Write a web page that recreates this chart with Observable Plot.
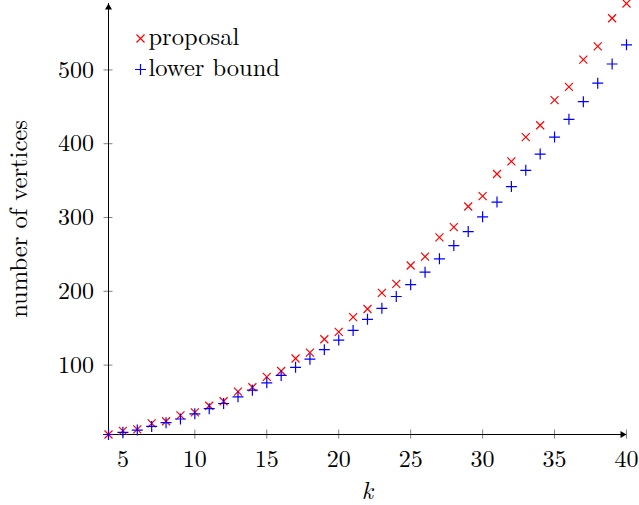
<!DOCTYPE html>
<html>
<head>
<meta charset="utf-8">
<script src="https://cdn.jsdelivr.net/npm/d3@7"></script>
<script src="https://cdn.jsdelivr.net/npm/@observablehq/plot@0.6"></script>
<style>
  html, body { margin: 0; padding: 0; background: #fff; }
  #chart svg { display: block; }
</style>
</head>
<body>
<div id="chart"></div>
<script>
// ---- data ----
const k = [4,5,6,7,8,9,10,11,12,13,14,15,16,17,18,19,20,21,22,23,24,25,26,27,28,29,30,31,32,33,34,35,36,37,38,39,40];
const proposal = [6,11,13,21,24,32,36,45,51,64,70,84,92,109,117,135,145,165,176,198,210,235,247,273,287,315,329,359,376,409,425,459,477,514,532,570,590];
const lowerBound = [6,9,12,17,22,27,34,41,48,57,66,76,86,97,108,121,134,147,162,177,193,209,226,244,262,281,301,321,342,364,386,409,433,457,482,508,534];
const seriesNames = ["proposal", "lower bound"];
const xTicks = [5,10,15,20,25,30,35,40];
const yTicks = [100,200,300,400,500];
const xLabel = "k";
const yLabel = "number of vertices";

// ---- build tables ----
const propData = k.map((kk, i) => ({k: kk, v: proposal[i]}));
const lowData = k.map((kk, i) => ({k: kk, v: lowerBound[i]}));
const allVals = proposal.concat(lowerBound);
const yMin = d3.min(allVals), yMax = d3.max(allVals);
const xMin = d3.min(k), xMax = d3.max(k);

const serif = "Latin Modern Roman";
const tickGray = "#808080";
const timesR = 3.72, plusR = 3.63, markW = 1.2;

const chart = Plot.plot({
  width: 639,
  height: 505,
  marginTop: 3,
  marginRight: 13,
  marginBottom: 71,
  marginLeft: 108,
  style: "font-family: 'Latin Modern Roman'; font-size: 24px; color: black; background: white; overflow: visible;",
  x: {domain: [xMin, xMax]},
  y: {domain: [yMin, yMax]},
  marks: [
    // tick labels
    Plot.axisX(xTicks, {tickSize: 0, tickPadding: 15, fontSize: 24, fontFamily: serif, label: null}),
    Plot.axisY(yTicks, {tickSize: 0, tickPadding: 14.5, fontSize: 24, fontFamily: serif, label: null}),
    // ticks crossing the axis lines
    Plot.ruleX(xTicks, {x: d => d, y1: yMin, y2: yMin, insetTop: 4.5, insetBottom: 4.5, stroke: tickGray, strokeWidth: 1}),
    Plot.ruleY(yTicks, {y: d => d, x1: xMin, x2: xMin, insetLeft: 4.5, insetRight: 4.5, stroke: tickGray, strokeWidth: 1}),
    // axis lines with arrow heads
    Plot.ruleY([yMin], {x1: xMin, x2: xMax, stroke: "black", strokeWidth: 1}),
    Plot.ruleX([xMin], {y1: yMin, y2: yMax, stroke: "black", strokeWidth: 1}),
    Plot.dot([xMax], {x: d => d, y: yMin, symbol: "triangle", rotate: 90, r: 2.6, fill: "black", stroke: "none", dx: -4}),
    Plot.dot([yMax], {x: xMin, y: d => d, symbol: "triangle", r: 2.6, fill: "black", stroke: "none", dy: 4}),
    // data
    Plot.dot(propData, {x: "k", y: "v", symbol: "times", r: timesR, stroke: "#ff0000", strokeWidth: markW}),
    Plot.dot(lowData, {x: "k", y: "v", symbol: "plus", r: plusR, stroke: "#0000ff", strokeWidth: markW}),
    // legend
    Plot.dot([seriesNames[0]], {frameAnchor: "top-left", dx: 32, dy: 35, symbol: "times", r: timesR, stroke: "#ff0000", strokeWidth: markW}),
    Plot.dot([seriesNames[1]], {frameAnchor: "top-left", dx: 32, dy: 66, symbol: "plus", r: plusR, stroke: "#0000ff", strokeWidth: markW}),
    Plot.text([seriesNames[0]], {frameAnchor: "top-left", dx: 40, dy: 34, text: d => d, textAnchor: "start", lineAnchor: "middle", fontSize: 24.5, fontFamily: serif, fill: "black"}),
    Plot.text([seriesNames[1]], {frameAnchor: "top-left", dx: 40, dy: 65, text: d => d, textAnchor: "start", lineAnchor: "middle", fontSize: 24.5, fontFamily: serif, fill: "black"}),
    // axis titles
    Plot.text([xLabel], {frameAnchor: "bottom", dy: 57, text: d => d, textAnchor: "middle", lineAnchor: "middle", fontStyle: "italic", fontSize: 24.5, fontFamily: serif, fill: "black"}),
    Plot.text([yLabel], {frameAnchor: "left", dx: -89, rotate: -90, text: d => d, textAnchor: "middle", lineAnchor: "middle", fontSize: 24.5, fontFamily: serif, fill: "black"})
  ]
});
document.getElementById("chart").appendChild(chart);
</script>
</body>
</html>
